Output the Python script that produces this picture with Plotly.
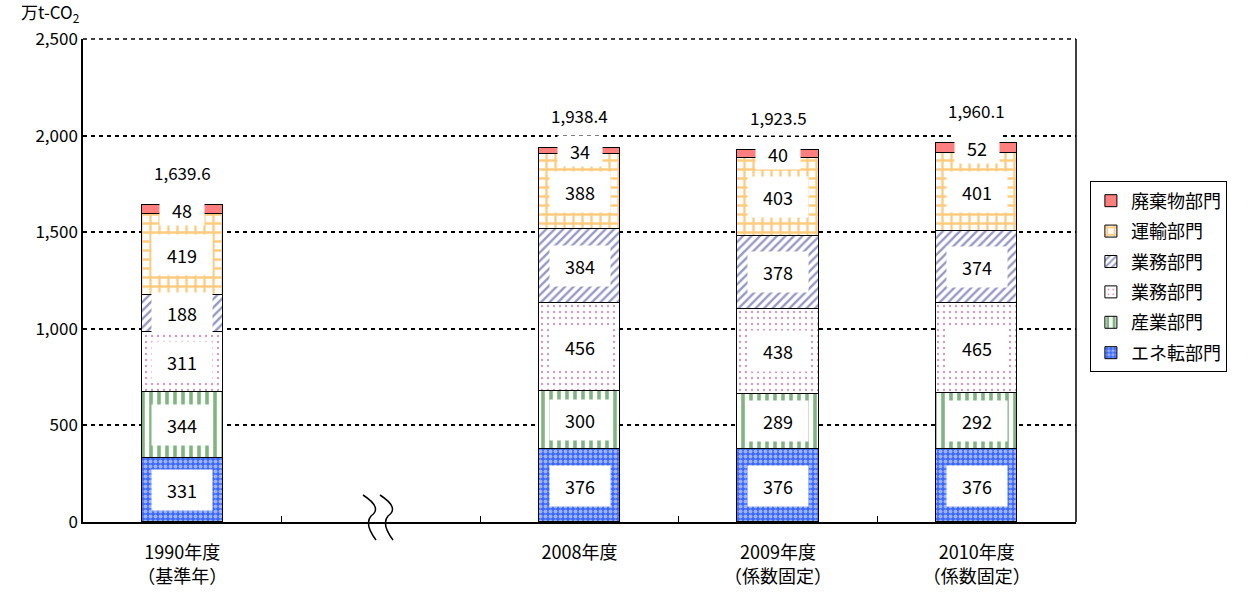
import plotly.graph_objects as go

# ---------------- data ----------------
categories = ["1990年度<br>（基準年）", "", "2008年度", "2009年度<br>（係数固定）", "2010年度<br>（係数固定）"]
bar_slots = [0, 2, 3, 4]
series_names = ["エネ転部門", "産業部門", "業務部門", "業務部門", "運輸部門", "廃棄物部門"]
ene = [331, 376, 376, 376]
sangyo = [344, 300, 289, 292]
gyomu_dot = [311, 456, 438, 465]
gyomu_hatch = [188, 384, 378, 374]
unyu = [419, 388, 403, 401]
haiki = [48, 34, 40, 52]
totals = [1639.6, 1938.4, 1923.5, 1960.1]
total_labels = ["1,639.6", "1,938.4", "1,923.5", "1,960.1"]
y_ticks = [0, 500, 1000, 1500, 2000, 2500]

series_values = [ene, sangyo, gyomu_dot, gyomu_hatch, unyu, haiki]

styles = [
    dict(shape=".", fgcolor="white", bgcolor="#3a66ff", size=5, solidity=0.5),
    dict(shape="|", fgcolor="#006e00", bgcolor="white", size=8, solidity=0.45),
    dict(shape=".", fgcolor="#b03070", bgcolor="white", size=6, solidity=0.12),
    dict(shape="/", fgcolor="#30308f", bgcolor="white", size=6, solidity=0.4),
    dict(shape="+", fgcolor="#ff9900", bgcolor="white", size=9, solidity=0.45),
    None,
]

FONT = "Noto Sans CJK JP, Arial, sans-serif"
n = len(series_names)

fig = go.Figure()
for k, (name, vals, st) in enumerate(zip(series_names, series_values, styles)):
    marker = dict(line=dict(color="black", width=1))
    if st is None:
        marker["color"] = "#ff7f7f"
    else:
        marker["color"] = "white"
        marker["pattern"] = st
    fig.add_trace(go.Bar(x=bar_slots, y=vals, name=name, width=0.41, marker=marker,
                         legendgroup=f"g{k}", legendrank=(n - k) * 10))

# segment labels with white boxes
annotations = []
for i, x in enumerate(bar_slots):
    base = 0
    for j, vals in enumerate(series_values):
        v = vals[i]
        top = j == len(series_values) - 1
        annotations.append(dict(
            x=x, y=base + v / 2, xref="x", yref="y", text=str(v), showarrow=False,
            font=dict(family=FONT, size=18, color="black"),
            bgcolor="white", borderpad=2 if top else 7,
            width=40 if top else 46,
        ))
        base += v
    annotations.append(dict(
        x=x, y=totals[i], xref="x", yref="y", text=total_labels[i], showarrow=False,
        yanchor="bottom", yshift=14,
        font=dict(family=FONT, size=17, color="black"),
        bgcolor="white", borderpad=5,
    ))

annotations.append(dict(
    x=0.0, y=1.0, xref="paper", yref="paper", text="万t-CO<sub>2</sub>", showarrow=False,
    xanchor="right", yanchor="bottom", xshift=-2, yshift=11,
    font=dict(family=FONT, size=17, color="black"),
))

# axis break symbol (pixel -> paper helper)
L, R, T, B = 83, 1076, 39, 522
def px(xp, yp):
    return (xp - L) / (R - L), (B - yp) / (B - T)

shapes = []
for off in (0, 17):
    p0, c1, m, c2, p3 = px(363 + off, 495), px(383 + off, 508), px(371 + off, 516), px(364 + off, 524), px(376 + off, 540)
    path = (f"M {p0[0]},{p0[1]} Q {c1[0]},{c1[1]} {m[0]},{m[1]} "
            f"Q {c2[0]},{c2[1]} {p3[0]},{p3[1]}")
    shapes.append(dict(type="path", xref="paper", yref="paper", path=path,
                       line=dict(color="black", width=1.5)))
# right border line and dashed top edge
shapes.append(dict(type="line", xref="paper", yref="paper", x0=1, x1=1, y0=0, y1=1,
                   line=dict(color="black", width=1.5)))
shapes.append(dict(type="line", xref="paper", yref="paper", x0=0, x1=1, y0=1, y1=1,
                   line=dict(color="black", width=1.5, dash="4px,4px")))

fig.update_layout(
    width=1259, height=593,
    margin=dict(l=L, r=1259 - R, t=T, b=593 - B),
    barmode="stack",
    plot_bgcolor="white", paper_bgcolor="white",
    font=dict(family=FONT, size=17, color="black"),
    bargap=0,
    annotations=annotations,
    shapes=shapes,
    legend=dict(
        x=1.014, y=0.705, xanchor="left", yanchor="top",
        traceorder="grouped",
        bordercolor="black", borderwidth=1, bgcolor="white",
        font=dict(family=FONT, size=18),
        tracegroupgap=4,
    ),
    xaxis=dict(
        range=[-0.5, 4.5], tickmode="array", tickvals=list(range(5)), ticktext=categories,
        ticks="", showline=True, linecolor="black", linewidth=1.5, mirror=False,
        showgrid=False, zeroline=False, ticklabelstandoff=14, automargin=False,
        tickfont=dict(family=FONT, size=18),
        minor=dict(tickmode="array", tickvals=[0.5, 1.5, 2.5, 3.5], ticks="inside",
                   ticklen=6, tickcolor="black", showgrid=False),
    ),
    yaxis=dict(
        range=[0, 2500], tickmode="array", tickvals=y_ticks, tickformat=",",
        showline=True, linecolor="black", linewidth=1.5, mirror=False,
        showgrid=True, gridcolor="black", gridwidth=1.5, griddash="4px,4px",
        zeroline=False, ticks="", ticklen=0, automargin=False,
        tickfont=dict(family=FONT, size=17),
    ),
)

fig.write_html("out.html")
